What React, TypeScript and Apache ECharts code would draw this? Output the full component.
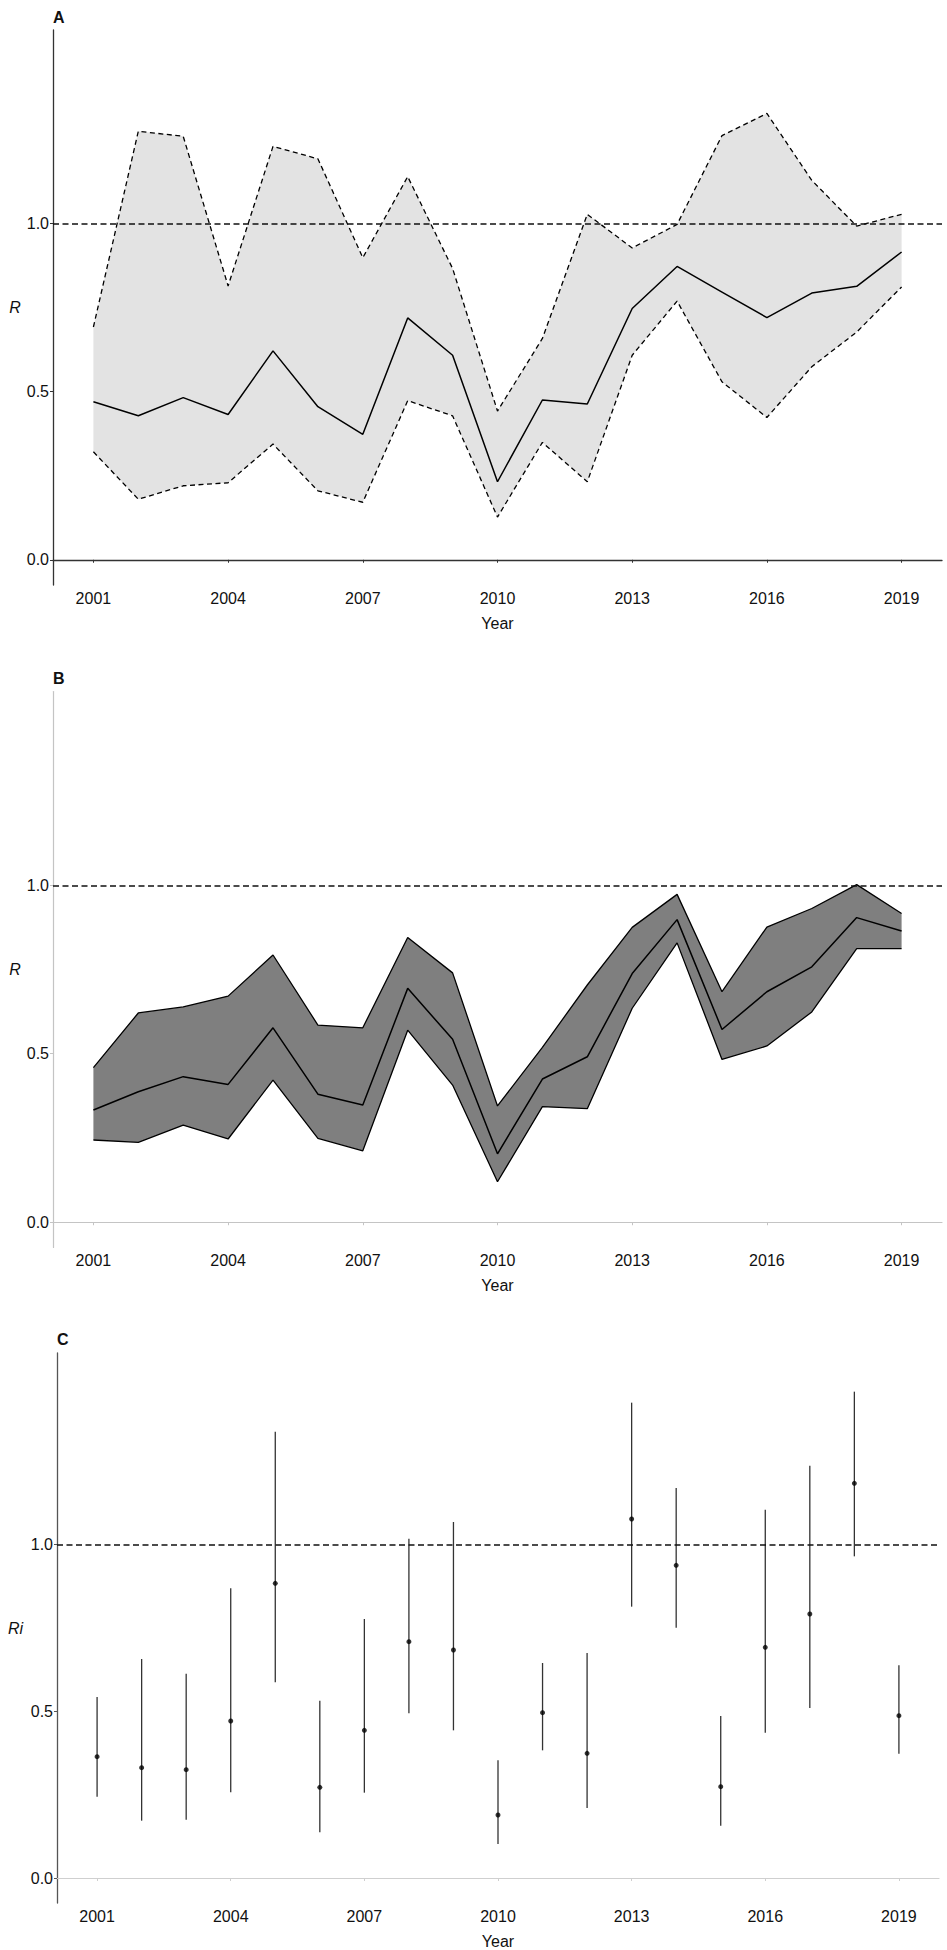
import React, { useEffect, useRef } from "react";
import * as echarts from "echarts";

const years = [2001, 2002, 2003, 2004, 2005, 2006, 2007, 2008, 2009, 2010, 2011, 2012, 2013, 2014, 2015, 2016, 2017, 2018, 2019];
const xTickValues = [2001, 2004, 2007, 2010, 2013, 2016, 2019];
const yTickValues = [0, 0.5, 1.0];
const panelLabels = ["A", "B", "C"];

// Panel A
const aUpper = [0.692, 1.274, 1.259, 0.814, 1.229, 1.192, 0.898, 1.139, 0.866, 0.442, 0.658, 1.027, 0.927, 0.997, 1.261, 1.327, 1.128, 0.992, 1.027];
const aMid = [0.47, 0.428, 0.482, 0.432, 0.621, 0.455, 0.373, 0.719, 0.608, 0.232, 0.475, 0.463, 0.747, 0.872, 0.796, 0.72, 0.793, 0.813, 0.915];
const aLower = [0.321, 0.18, 0.22, 0.229, 0.344, 0.205, 0.171, 0.473, 0.428, 0.127, 0.349, 0.232, 0.608, 0.769, 0.529, 0.423, 0.574, 0.677, 0.811];

// Panel B
const bUpper = [0.459, 0.621, 0.639, 0.671, 0.793, 0.585, 0.577, 0.845, 0.74, 0.345, 0.519, 0.704, 0.875, 0.973, 0.684, 0.876, 0.931, 1.002, 0.916];
const bMid = [0.333, 0.387, 0.432, 0.409, 0.577, 0.38, 0.348, 0.694, 0.543, 0.203, 0.425, 0.491, 0.738, 0.898, 0.572, 0.684, 0.758, 0.904, 0.864];
const bLower = [0.244, 0.237, 0.288, 0.247, 0.422, 0.249, 0.212, 0.57, 0.407, 0.12, 0.343, 0.337, 0.635, 0.829, 0.483, 0.523, 0.624, 0.812, 0.812];

// Panel C
const cPoint = [0.364, 0.331, 0.325, 0.471, 0.884, 0.272, 0.443, 0.709, 0.684, 0.189, 0.496, 0.374, 1.077, 0.938, 0.274, 0.692, 0.792, 1.184, 0.487];
const cUpper = [0.543, 0.657, 0.613, 0.869, 1.339, 0.532, 0.777, 1.018, 1.068, 0.353, 0.645, 0.675, 1.426, 1.17, 0.486, 1.105, 1.237, 1.459, 0.638];
const cLower = [0.244, 0.172, 0.175, 0.257, 0.587, 0.137, 0.256, 0.494, 0.443, 0.102, 0.383, 0.21, 0.814, 0.751, 0.157, 0.436, 0.51, 0.965, 0.373];

const FONT = '"Liberation Sans", Arial, Helvetica, sans-serif';

function pairs(vals: number[]) {
  return years.map((y, i) => [y, vals[i]]);
}

function bandSeries(idx: number, upper: number[], lower: number[], fill: string) {
  return {
    type: "custom",
    xAxisIndex: idx,
    yAxisIndex: idx,
    silent: true,
    z: 1,
    data: years.map((y, i) => [y, lower[i], upper[i]]),
    encode: { x: 0, y: [1, 2] },
    renderItem: (params: any, api: any) => {
      if (params.dataIndex !== 0) return null;
      const pts: number[][] = [];
      for (let i = 0; i < years.length; i++) pts.push(api.coord([years[i], upper[i]]));
      for (let i = years.length - 1; i >= 0; i--) pts.push(api.coord([years[i], lower[i]]));
      return {
        type: "polygon",
        shape: { points: pts },
        style: { fill: fill, stroke: "none" },
      };
    },
  };
}

function lineSeries(idx: number, vals: number[], dashed: boolean, width: number) {
  return {
    type: "line",
    xAxisIndex: idx,
    yAxisIndex: idx,
    data: pairs(vals),
    symbol: "none",
    silent: true,
    z: 3,
    lineStyle: { color: "#000", width: width, type: dashed ? [5, 3.5] : "solid" },
  };
}

function refLine(idx: number) {
  return {
    type: "line",
    xAxisIndex: idx,
    yAxisIndex: idx,
    data: [],
    symbol: "none",
    silent: true,
    markLine: {
      silent: true,
      symbol: ["none", "none"],
      label: { show: false },
      data: [{ yAxis: 1 }],
      lineStyle: { color: "#111", width: 1.5, type: [6, 3.5] },
      animation: false,
    },
  };
}

function xAxisDef(idx: number, color: string, width: number) {
  return {
    type: "value",
    gridIndex: idx,
    min: 2000.1,
    max: 2019.9,
    name: "Year",
    nameLocation: "middle",
    nameGap: 30,
    nameTextStyle: { fontFamily: FONT, fontSize: 16, color: "#111" },
    axisLine: { show: true, lineStyle: { color: color, width: width } },
    axisTick: { show: true, length: 3, customValues: xTickValues, lineStyle: { color: color, width: 1 } },
    axisLabel: { customValues: xTickValues, margin: 5, fontFamily: FONT, fontSize: 16, color: "#111", formatter: (v: number) => String(v) },
    splitLine: { show: false },
  };
}

function yAxisDef(idx: number, name: string, color: string, width: number, gap: number) {
  return {
    type: "value",
    gridIndex: idx,
    min: -0.075,
    max: 1.575,
    name: name,
    nameLocation: "middle",
    nameRotate: 0,
    nameGap: gap,
    nameTextStyle: { fontFamily: FONT, fontSize: 16, fontStyle: "italic", color: "#111" },
    axisLine: { show: true, lineStyle: { color: color, width: width } },
    axisTick: { show: true, length: 3, customValues: yTickValues, lineStyle: { color: color, width: 1 } },
    axisLabel: { customValues: yTickValues, margin: 4, fontFamily: FONT, fontSize: 16, color: "#111", formatter: (v: number) => v.toFixed(1) },
    splitLine: { show: false },
  };
}

export default function App() {
  const ref = useRef<HTMLDivElement>(null);
  useEffect(() => {
    if (!ref.current) return;
    const chart = echarts.init(ref.current, undefined, { renderer: "svg" });
    const option: any = {
      animation: false,
      backgroundColor: "#fff",
      grid: [
        { left: 53, top: 30, width: 889, height: 555 },
        { left: 53, top: 691.5, width: 889, height: 556 },
        { left: 57, top: 1353, width: 882, height: 553 },
      ],
      xAxis: [xAxisDef(0, "#333", 1.3), xAxisDef(1, "#c4c4c4", 1.2), xAxisDef(2, "#cfcfcf", 1.2)],
      yAxis: [
        yAxisDef(0, "R", "#333", 1.3, 32),
        yAxisDef(1, "R", "#c4c4c4", 1.2, 32),
        yAxisDef(2, "Ri", "#555", 1.3, 34),
      ],
      graphic: [
        { type: "text", left: 53, top: 9, style: { text: panelLabels[0], font: `bold 16px ${FONT}`, fill: "#111" } },
        { type: "text", left: 53, top: 670, style: { text: panelLabels[1], font: `bold 16px ${FONT}`, fill: "#111" } },
        { type: "text", left: 57, top: 1331, style: { text: panelLabels[2], font: `bold 16px ${FONT}`, fill: "#111" } },
      ],
      series: [
        // Panel A
        bandSeries(0, aUpper, aLower, "#e3e3e3"),
        lineSeries(0, aUpper, true, 1.3),
        lineSeries(0, aLower, true, 1.3),
        lineSeries(0, aMid, false, 1.5),
        refLine(0),
        // Panel B
        bandSeries(1, bUpper, bLower, "#7f7f7f"),
        lineSeries(1, bUpper, false, 1.3),
        lineSeries(1, bLower, false, 1.3),
        lineSeries(1, bMid, false, 1.5),
        refLine(1),
        // Panel C
        {
          type: "custom",
          xAxisIndex: 2,
          yAxisIndex: 2,
          silent: true,
          z: 2,
          data: years.map((y, i) => [y, cLower[i], cUpper[i]]),
          encode: { x: 0, y: [1, 2] },
          renderItem: (params: any, api: any) => {
            const p1 = api.coord([api.value(0), api.value(1)]);
            const p2 = api.coord([api.value(0), api.value(2)]);
            return {
              type: "line",
              shape: { x1: p1[0], y1: p1[1], x2: p2[0], y2: p2[1] },
              style: { stroke: "#333", lineWidth: 1.3 },
            };
          },
        },
        {
          type: "scatter",
          xAxisIndex: 2,
          yAxisIndex: 2,
          silent: true,
          z: 3,
          data: pairs(cPoint),
          symbol: "circle",
          symbolSize: 5,
          itemStyle: { color: "#000" },
        },
        refLine(2),
      ],
    };
    chart.setOption(option);
    return () => chart.dispose();
  }, []);
  return <div ref={ref} style={{ position: "absolute", left: 0, top: 0, width: 947, height: 1950 }} />;
}
